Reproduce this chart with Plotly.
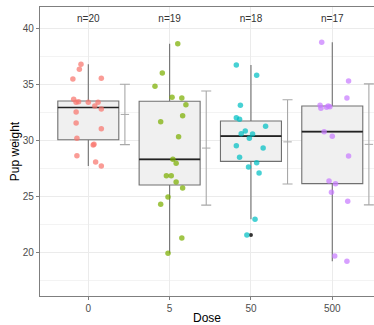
import numpy as np
import plotly.graph_objects as go

doses = ["0", "5", "50", "500"]

weight_0 = [36.79, 36.34, 35.47, 35.54, 33.66, 33.39, 33.45, 33.39, 33.39, 33.06,
            32.79, 32.53, 31.54, 31.04, 30.18, 29.58, 29.65, 28.63, 28.06, 27.70]
weight_5 = [38.63, 36.00, 34.82, 33.84, 33.78, 33.18, 32.20, 31.66, 30.32, 28.30,
            27.95, 26.84, 26.84, 26.28, 25.74, 24.94, 24.29, 21.28, 19.91]
weight_50 = [36.72, 35.80, 33.12, 32.02, 31.88, 31.25, 30.83, 30.59, 30.56, 30.18,
             29.52, 29.31, 28.48, 28.00, 27.62, 27.08, 22.95, 21.55]
weight_500 = [38.75, 35.30, 33.78, 33.12, 32.85, 33.06, 33.00, 32.95, 30.77, 30.36,
              28.60, 26.37, 26.13, 25.36, 24.55, 19.67, 19.20]

# horizontal jitter (category units)
jitter_0 = [-0.09, -0.11, -0.19, 0.16, -0.18, -0.15, -0.12, 0.00, 0.12, 0.08,
            0.16, -0.15, -0.15, 0.16, -0.14, 0.06, 0.07, -0.14, 0.09, 0.16]
jitter_5 = [0.10, -0.09, -0.18, 0.03, 0.15, 0.20, 0.16, -0.11, 0.11, 0.04,
            0.08, -0.04, 0.02, 0.08, 0.16, -0.02, -0.11, 0.15, -0.02]
jitter_50 = [-0.18, 0.07, -0.13, -0.18, -0.14, 0.18, -0.07, -0.12, 0.02, -0.02,
             -0.18, 0.15, -0.14, 0.07, -0.03, 0.10, 0.05, -0.05]
jitter_500 = [-0.13, 0.20, 0.18, -0.15, -0.14, -0.05, -0.03, -0.07, -0.10, 0.00,
              0.20, -0.04, 0.04, -0.01, 0.19, 0.03, 0.18]

groups = [weight_0, weight_5, weight_50, weight_500]
jitters = [jitter_0, jitter_5, jitter_50, jitter_500]
colors = ["#F8766D", "#7CAE00", "#00BFC4", "#C77CFF"]

FONT = "Liberation Sans, Arial, sans-serif"
BOX_W = 0.75
ERR_OFF = 0.45

fig = go.Figure()

for i, (vals, jit, col) in enumerate(zip(groups, jitters, colors)):
    pos = i + 1
    v = np.array(vals)
    q1, med, q3 = np.percentile(v, [25, 50, 75])
    iqr = q3 - q1
    inside = v[(v >= q1 - 1.5 * iqr) & (v <= q3 + 1.5 * iqr)]
    lo, hi = inside.min(), inside.max()
    outl = v[(v < q1 - 1.5 * iqr) | (v > q3 + 1.5 * iqr)]

    fig.add_trace(go.Box(
        x=[pos], q1=[q1], median=[med], q3=[q3],
        lowerfence=[lo], upperfence=[hi],
        width=BOX_W, whiskerwidth=0,
        fillcolor="#F0F0F0",
        line=dict(color="#707070", width=1.1),
        boxpoints=False, showlegend=False, hoverinfo="skip",
    ))
    fig.add_trace(go.Scatter(
        x=[pos - BOX_W / 2, pos + BOX_W / 2], y=[med, med], mode="lines",
        line=dict(color="#222222", width=1.6), showlegend=False, hoverinfo="skip"))
    if len(outl):
        fig.add_trace(go.Scatter(
            x=[pos] * len(outl), y=outl, mode="markers",
            marker=dict(color="#333333", size=4), showlegend=False))
    fig.add_trace(go.Scatter(
        x=[pos + j for j in jit], y=vals, mode="markers",
        marker=dict(color=col, size=5.5, opacity=0.72, line=dict(width=0)),
        showlegend=False))
    m = v.mean()
    sd = v.std(ddof=1)
    fig.add_trace(go.Scatter(
        x=[pos + ERR_OFF], y=[m], mode="markers",
        marker=dict(symbol="line-ew", size=6, color="#A8A8A8",
                    line=dict(color="#A8A8A8", width=1)),
        error_y=dict(type="data", array=[sd], color="#A8A8A8", thickness=1.1, width=5),
        showlegend=False))

fig.add_trace(go.Scatter(
    x=[i + 1 for i in range(len(groups))], y=[40.8] * len(groups),
    text=[f"n={len(g)}" for g in groups], mode="text",
    textfont=dict(family=FONT, size=10, color="#333333"), showlegend=False))

fig.update_layout(
    width=374, height=325,
    margin=dict(l=40, r=0, t=7, b=29),
    plot_bgcolor="white", paper_bgcolor="white",
    font=dict(family=FONT),
)
fig.update_xaxes(
    range=[0.406, 4.513], automargin=False,
    tickvals=[1, 2, 3, 4], ticktext=doses,
    showgrid=True, gridcolor="#EBEBEB", gridwidth=1,
    zeroline=False,
    showline=True, linecolor="#7F7F7F", linewidth=1.2, mirror=True,
    ticks="outside", ticklen=3, tickcolor="#7F7F7F",
    tickfont=dict(family=FONT, size=10, color="#4D4D4D"),
    title=dict(text="Dose", font=dict(family=FONT, size=12, color="black"), standoff=1),
)
fig.update_yaxes(
    range=[16.1, 41.9], automargin=False,
    tickvals=[20, 25, 30, 35, 40],
    showgrid=True, gridcolor="#EBEBEB", gridwidth=1,
    minor=dict(tickvals=[17.5, 22.5, 27.5, 32.5, 37.5], showgrid=True,
               gridcolor="#F3F3F3", gridwidth=0.6),
    zeroline=False,
    showline=True, linecolor="#7F7F7F", linewidth=1.2,
    ticks="outside", ticklen=3, tickcolor="#7F7F7F",
    tickfont=dict(family=FONT, size=10, color="#4D4D4D"),
    title=dict(text="Pup weight", font=dict(family=FONT, size=12, color="black"), standoff=0),
)

fig.write_html("out.html", config={"displayModeBar": False},
               post_script="document.body.style.margin='0';document.body.style.padding='0';")
